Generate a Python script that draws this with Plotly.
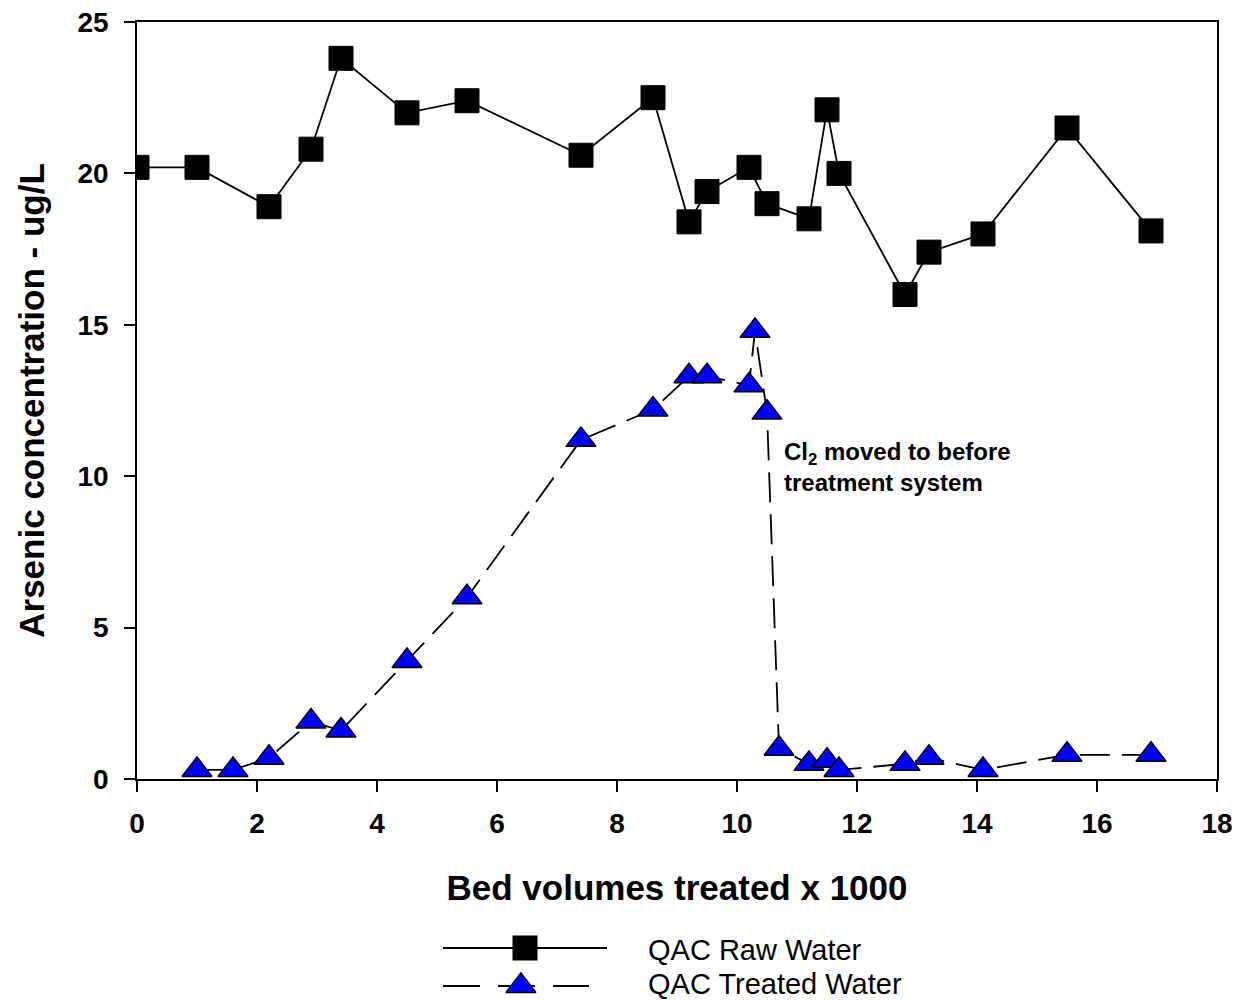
import plotly.graph_objects as go

# Data
raw_x = [0, 1.0, 2.2, 2.9, 3.4, 4.5, 5.5, 7.4, 8.6, 9.2, 9.5, 10.2, 10.5, 11.2, 11.5, 11.7, 12.8, 13.2, 14.1, 15.5, 16.9]
raw_y = [20.2, 20.2, 18.9, 20.8, 23.8, 22.0, 22.4, 20.6, 22.5, 18.4, 19.4, 20.2, 19.0, 18.5, 22.1, 20.0, 16.0, 17.4, 18.0, 21.5, 18.1]

treated_x = [1.0, 1.6, 2.2, 2.9, 3.4, 4.5, 5.5, 7.4, 8.6, 9.2, 9.5, 10.2, 10.3, 10.5, 10.7, 11.2, 11.5, 11.7, 12.8, 13.2, 14.1, 15.5, 16.9]
treated_y = [0.3, 0.3, 0.7, 1.9, 1.6, 3.9, 6.0, 11.2, 12.2, 13.3, 13.3, 13.0, 14.8, 12.1, 1.0, 0.5, 0.6, 0.3, 0.5, 0.7, 0.3, 0.8, 0.8]

series_names = ["QAC Raw Water", "QAC Treated Water"]
x_ticks = [0, 2, 4, 6, 8, 10, 12, 14, 16, 18]
y_ticks = [0, 5, 10, 15, 20, 25]

W, H = 1238, 1000
L, R, T, B = 137, 1217, 22, 779

FONT = "Liberation Sans, Arial, sans-serif"
DASH = "30px,12px"

fig = go.Figure()
fig.add_trace(go.Scatter(
    x=raw_x, y=raw_y, mode="lines+markers", name=series_names[0],
    line=dict(color="black", width=1.8),
    marker=dict(symbol="square", size=24, color="black", line=dict(color="black", width=1)),
    showlegend=False))
fig.add_trace(go.Scatter(
    x=treated_x, y=treated_y, mode="lines+markers", name=series_names[1],
    line=dict(color="black", width=1.8, dash=DASH),
    marker=dict(symbol="triangle-up", size=26, color="#0000FF", line=dict(color="black", width=1.5)),
    showlegend=False))

# custom legend samples drawn on a small helper axis
fig.add_trace(go.Scatter(
    x=[0, 1, 2], y=[52, 52, 52], xaxis="x2", yaxis="y2", mode="lines",
    line=dict(color="black", width=1.8), showlegend=False, hoverinfo="skip"))
fig.add_trace(go.Scatter(
    x=[1], y=[52], xaxis="x2", yaxis="y2", mode="markers",
    marker=dict(symbol="square", size=25, color="black"), showlegend=False, hoverinfo="skip"))
fig.add_trace(go.Scatter(
    x=[0, 1.78], y=[14, 14], xaxis="x2", yaxis="y2", mode="lines",
    line=dict(color="black", width=1.8, dash="37px,18px"), showlegend=False, hoverinfo="skip"))
fig.add_trace(go.Scatter(
    x=[0.95], y=[14], xaxis="x2", yaxis="y2", mode="markers",
    marker=dict(symbol="triangle-up", size=26, color="#0000FF", line=dict(color="black", width=1.5)),
    showlegend=False, hoverinfo="skip"))

fig.update_layout(
    width=W, height=H,
    margin=dict(l=0, r=0, t=0, b=0),
    paper_bgcolor="white", plot_bgcolor="white",
    font=dict(family=FONT, color="black"),
    xaxis=dict(
        domain=[L / W, R / W], anchor="y",
        range=[0, 18], tickvals=x_ticks, ticktext=[str(v) for v in x_ticks],
        showgrid=False, zeroline=False, showline=True, linecolor="black", linewidth=1.5,
        mirror=True, ticks="outside", ticklen=11, tickwidth=1.5, tickcolor="black",
        ticklabelstandoff=8,
        tickfont=dict(family=FONT, size=28, color="black", weight="bold"),
        title=dict(text="Bed volumes treated x 1000", standoff=37,
                   font=dict(family=FONT, size=35, color="black", weight="bold")),
        automargin=False),
    yaxis=dict(
        domain=[1 - B / H, 1 - T / H], anchor="x",
        range=[0, 25], tickvals=y_ticks, ticktext=[str(v) for v in y_ticks],
        showgrid=False, zeroline=False, showline=True, linecolor="black", linewidth=1.5,
        mirror=True, ticks="outside", ticklen=11, tickwidth=1.5, tickcolor="black",
        ticklabelstandoff=10,
        tickfont=dict(family=FONT, size=28, color="black", weight="bold"),
        title=dict(text="Arsenic concentration - ug/L", standoff=22,
                   font=dict(family=FONT, size=35, color="black", weight="bold")),
        automargin=False),
    xaxis2=dict(domain=[443 / W, 607 / W], anchor="y2", range=[0, 2], visible=False, fixedrange=True),
    yaxis2=dict(domain=[0, 0.1], anchor="x2", range=[0, 100], visible=False, fixedrange=True),
)

fig.add_annotation(
    x=10.75, y=11.33, xref="x", yref="y", xanchor="left", yanchor="top",
    text="Cl<sub>2</sub> moved to before<br>treatment system", showarrow=False, align="left",
    font=dict(family=FONT, size=24, color="black", weight="bold"))

fig.add_annotation(x=646 / W, y=1 - 950 / H, xref="paper", yref="paper", xanchor="left", yanchor="middle",
                   text=series_names[0], showarrow=False, font=dict(family=FONT, size=29, color="black"))
fig.add_annotation(x=646 / W, y=1 - 984 / H, xref="paper", yref="paper", xanchor="left", yanchor="middle",
                   text=series_names[1], showarrow=False, font=dict(family=FONT, size=29, color="black"))

fig.write_html("out.html")
